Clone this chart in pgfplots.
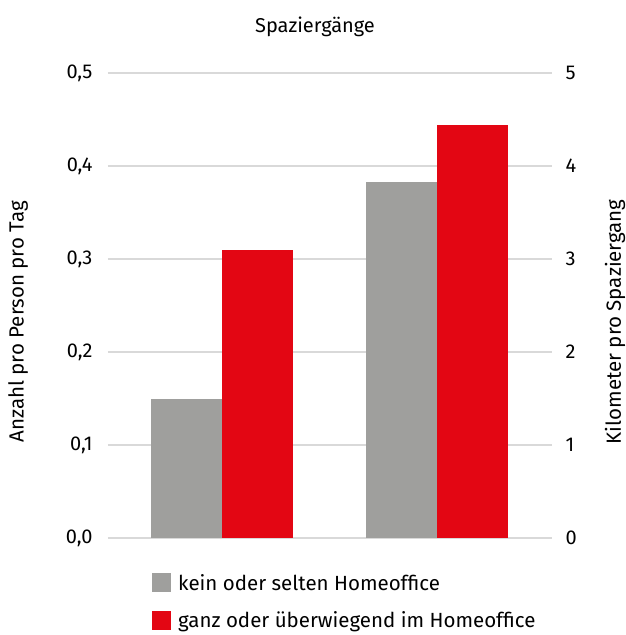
\documentclass[border=0pt]{standalone}
\usepackage{pgfplots}
\pgfplotsset{compat=1.18}
\usepackage{fontspec}
\setmainfont{Fira Sans}
\definecolor{cgray}{HTML}{9F9F9D}
\definecolor{cred}{HTML}{E30613}
\definecolor{cgrid}{HTML}{D9D9D9}
\pgfplotsset{every axis/.append style={font=\fontsize{20.5}{24}\selectfont}}
\begin{document}
\begin{tikzpicture}[x=1pt,y=1pt]
\useasboundingbox (-108,-97) rectangle (517,538);
\begin{axis}[
  scale only axis, width=444pt, height=465pt,
  xmin=-0.53, xmax=1.535, ymin=0, ymax=0.5,
  axis line style={draw=none}, xtick=\empty,
  ytick={0,0.1,0.2,0.3,0.4,0.5},
  major tick length=0pt,
  ymajorgrids, grid style={cgrid, line width=1.5pt},
  /pgf/number format/use comma, /pgf/number format/fixed, /pgf/number format/fixed zerofill, /pgf/number format/precision=1, /pgf/number format/assume math mode=true,
  tick label style={font=\fontsize{20}{24}\selectfont},
  yticklabel style={xshift=-12pt},
  ylabel={Anzahl pro Person pro Tag},
  ylabel style={at={(axis description cs:-0.2027,0.465)}, anchor=center, font=\fontsize{20.5}{24}\selectfont},
  title={Spaziergänge},
  title style={at={(axis description cs:0.5,1)}, anchor=center, yshift=40pt, xshift=-15pt, font=\fontsize{20}{24}\selectfont},
  ybar, bar width=0.33,
  legend style={draw=none, at={(axis cs:-0.53,0)}, anchor=north west, xshift=41pt, yshift=-32pt, legend cell align=left, row sep=16pt, font=\fontsize{20.5}{24}\selectfont, nodes={inner xsep=7pt}},
  legend image code/.code={\fill[#1] (0pt,-9.5pt) rectangle (19pt,9.5pt);},
]
\addplot[fill=cgray, draw=none, bar shift=-0.165] coordinates {(0,0.15)};
\addlegendentry{kein oder selten Homeoffice}
\addplot[fill=cred, draw=none, bar shift=0.165] coordinates {(0,0.31)};
\addlegendentry{ganz oder überwiegend im Homeoffice}
\end{axis}
\begin{axis}[
  scale only axis, width=444pt, height=465pt,
  xmin=-0.53, xmax=1.535, ymin=0, ymax=5,
  axis line style={draw=none}, xtick=\empty,
  axis y line*=right,
  ytick={0,1,2,3,4,5},
  major tick length=0pt,
  /pgf/number format/assume math mode=true,
  tick label style={font=\fontsize{20}{24}\selectfont},
  yticklabel style={xshift=10pt},
  ylabel={Kilometer pro Spaziergang},
  ylabel style={at={(axis description cs:1.142,0.465)}, anchor=center, font=\fontsize{20.5}{24}\selectfont},
  ybar, bar width=0.33,
]
\addplot[fill=cgray, draw=none, bar shift=-0.165] coordinates {(1,3.83)};
\addplot[fill=cred, draw=none, bar shift=0.165] coordinates {(1,4.44)};
\end{axis}
\end{tikzpicture}
\end{document}
